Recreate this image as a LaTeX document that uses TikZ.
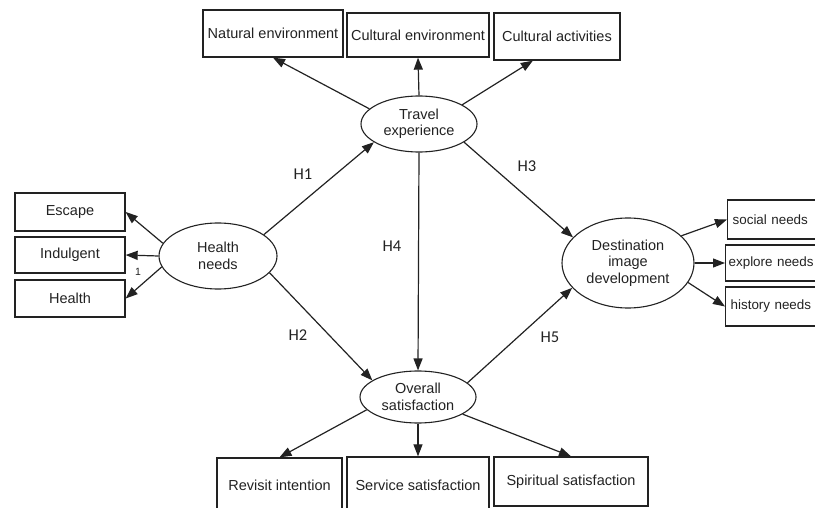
\documentclass[tikz,border=0pt]{standalone}
\usepackage{fontspec}
\setmainfont{Liberation Sans}
\newfontfamily\hypfont{Carlito}
\usetikzlibrary{arrows.meta, shapes.geometric}
\definecolor{ink}{HTML}{222222}

\begin{document}
\begin{tikzpicture}[x=1pt, y=-1pt,
  box/.style={draw=ink, line width=1.3pt, inner sep=0pt, text=ink,
              font=\fontsize{14.5}{16.5}\selectfont},
  side/.style={box, anchor=west, text width=96pt, inner xsep=5pt, align=left,
               font=\fontsize{13.4}{16}\selectfont},
  lat/.style={draw=ink, ellipse, line width=1.1pt, inner sep=0pt, align=center,
              text=ink, font=\fontsize{14.5}{16.5}\selectfont},
  hyp/.style={text=ink, font=\hypfont\fontsize{16.5}{18}\selectfont},
  link/.style={->, draw=ink, line width=1.2pt},
  >={Triangle[length=12pt, width=9pt]}
]
\useasboundingbox (0,0) rectangle (815,508);
\clip (0,0) rectangle (815,508);
\node[lat, minimum width=116pt, minimum height=56pt] (trav) at (419,124) {Travel\\experience};
\node[lat, minimum width=118pt, minimum height=66pt] (hn)   at (218,256) {Health\\needs};
\node[lat, minimum width=116pt, minimum height=52pt] (ov)   at (418,397) {Overall\\satisfaction};
\node[lat, minimum width=132pt, minimum height=90pt] (dest) at (628,263) {Destination\\image\\development};
\node[box, minimum width=140pt, minimum height=47pt] (nat)  at (273,33.5) {Natural environment};
\node[box, minimum width=142pt, minimum height=44pt] (cenv) at (418,35)   {Cultural environment};
\node[box, minimum width=126pt, minimum height=47pt] (cact) at (557,36.5) {Cultural activities};
\node[box, minimum width=110pt, minimum height=38pt] (esc)  at (70,212)   {Escape};
\node[box, minimum width=110pt, minimum height=36pt] (ind)  at (70,255)   {Indulgent};
\node[box, minimum width=110pt, minimum height=37pt] (hlt)  at (70,298.5) {Health};
\node[side, minimum height=39pt] (soc) at (727,219.5) {social needs};
\node[side, minimum height=36pt, inner xsep=3pt] (exp) at (725,263) {explore needs};
\node[side, minimum height=39pt] (his) at (725,306.5) {history needs};
\node[box, minimum width=125pt, minimum height=55pt] (rev)  at (279.5,485.5) {Revisit intention};
\node[box, minimum width=142pt, minimum height=56pt] (serv) at (418,485)     {Service satisfaction};
\node[box, minimum width=154pt, minimum height=49pt] (spir) at (571,481.5)   {Spiritual satisfaction};
\node[hyp] (h1) at (303,174) {H1};
\node[hyp] (h2) at (298,335) {H2};
\node[hyp] (h3) at (527,166) {H3};
\node[hyp] (h4) at (392,246) {H4};
\node[hyp] (h5) at (550,337) {H5};
\node[text=ink, font=\fontsize{10.5}{12}\selectfont] (one) at (138,272) {1};
\draw[link] (trav.163) -- (nat.south);
\draw[link] (trav.north) -- (cenv.south);
\draw[link] (trav.24) -- (cact.225);
\draw[link] (hn.167) -- (esc.east);
\draw[link] (hn.west) -- (ind.east);
\draw[link] (hn.191) -- (hlt.east);
\draw[link] (dest.27) -- (soc.west);
\draw[link] (dest.east) -- (exp.west);
\draw[link] (dest.-18) -- (his.west);
\draw[link] (ov.194) -- (rev.north);
\draw[link] (ov.south) -- (serv.north);
\draw[link] (ov.-21) -- (spir.north);
\draw[link] (hn.25) -- (trav.202);
\draw[link] (hn.-18) -- (ov.160);
\draw[link] (trav.-22) -- (dest.155);
\draw[link] (trav.south) -- (ov.north);
\draw[link] (ov.16) -- (dest.204);
\end{tikzpicture}
\end{document}
